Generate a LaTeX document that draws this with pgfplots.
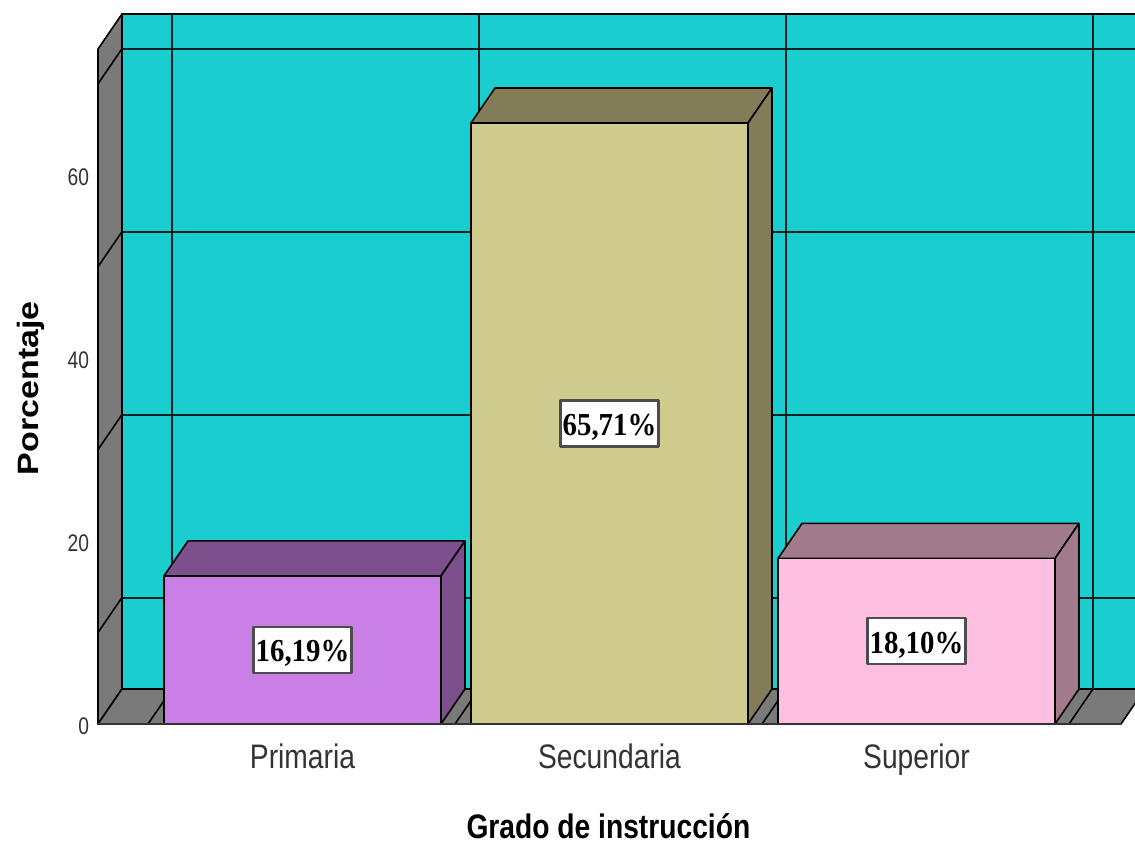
\documentclass[border=0pt]{standalone}
\usepackage{fontspec}
\setmainfont{Liberation Sans}
\newfontfamily\lblserif{Liberation Serif}
\usepackage{graphicx}
\usepackage{pgfplots}
\pgfplotsset{compat=1.18}
\definecolor{wall}{HTML}{1ACED0}
\definecolor{sidegrey}{HTML}{7A7A7A}
\definecolor{purF}{HTML}{C97FE6}
\definecolor{purD}{HTML}{7D4F8C}
\definecolor{khaF}{HTML}{D0CB8E}
\definecolor{khaD}{HTML}{827D57}
\definecolor{pinF}{HTML}{FFBFE0}
\definecolor{pinD}{HTML}{A17A8C}
\definecolor{ink}{HTML}{333333}
\begin{document}
\begin{tikzpicture}
\useasboundingbox (0pt,0pt) rectangle (851.25pt,632.25pt);
\begin{axis}[
  at={(73.5pt,89.25pt)}, anchor=south west,
  scale only axis, width=785.25pt, height=532.5pt,
  xmin=98, xmax=1145, ymin=0, ymax=77.63,
  clip=false,
  axis line style={draw=none}, tick style={draw=none},
  xtick={302.5,609.5,916.5},
  xticklabels={\scalebox{0.83}[1]{Primaria},\scalebox{0.83}[1]{Secundaria},\scalebox{0.83}[1]{Superior}},
  ytick={0,20,40,60},
  /pgf/number format/assume math mode=true,
  xticklabel style={anchor=center, yshift=-24.5pt, text=ink, text height=18pt, text depth=0pt, inner sep=0pt, font=\fontsize{25.5}{30}\selectfont},
  yticklabel style={anchor=east, yshift=-1.5pt, xshift=-3.25pt, text=ink, font=\fontsize{18}{22}\selectfont},
  yticklabel={\scalebox{0.8}[1]{\pgfmathprintnumber{\tick}}},
  xlabel={\scalebox{0.83}[1]{Grado de instrucción}},
  xlabel style={at={(axis description cs:0.4875,-0.1445)}, anchor=center, inner sep=0pt, text height=18pt, text depth=0pt, font=\fontsize{25.5}{30}\selectfont\bfseries},
  ylabel={\scalebox{1}[0.865]{Porcentaje}},
  ylabel style={at={(axis description cs:-0.0645,0.473)}, anchor=center, rotate=0, font=\fontsize{25.5}{30}\selectfont\bfseries},
  every axis plot/.append style={line width=1.2pt, line join=round},
]
% back wall
\addplot[fill=wall, draw=black] coordinates {(122,3.83)(1145,3.83)(1145,77.63)(122,77.63)} -- cycle;
% left wall
\addplot[fill=sidegrey, draw=black] coordinates {(98,0)(122,3.83)(122,77.63)(98,73.8)} -- cycle;
% floor
\addplot[fill=sidegrey, draw=black] coordinates {(98,0)(1121,0)(1145,3.83)(122,3.83)} -- cycle;
% back wall grid
\addplot[draw=black!85!wall, line width=1.5pt] coordinates {(122,13.83)(1145,13.83)};
\addplot[draw=black!85!wall, line width=1.5pt] coordinates {(122,33.83)(1145,33.83)};
\addplot[draw=black!85!wall, line width=1.5pt] coordinates {(122,53.83)(1145,53.83)};
\addplot[draw=black!85!wall, line width=1.5pt] coordinates {(122,73.83)(1145,73.83)};
\addplot[draw=black!85!wall] coordinates {(172,3.83)(172,77.63)};
\addplot[draw=black!85!wall] coordinates {(479,3.83)(479,77.63)};
\addplot[draw=black!85!wall] coordinates {(786,3.83)(786,77.63)};
\addplot[draw=black!85!wall] coordinates {(1093,3.83)(1093,77.63)};
% left wall grid
\addplot[draw=black] coordinates {(98,10)(122,13.83)};
\addplot[draw=black] coordinates {(98,30)(122,33.83)};
\addplot[draw=black] coordinates {(98,50)(122,53.83)};
\addplot[draw=black] coordinates {(98,70)(122,73.83)};
% floor grid
\addplot[draw=black] coordinates {(148,0)(172,3.83)};
\addplot[draw=black] coordinates {(455,0)(479,3.83)};
\addplot[draw=black] coordinates {(762,0)(786,3.83)};
\addplot[draw=black] coordinates {(1069,0)(1093,3.83)};
% Primaria 16.19
\addplot[fill=purD, draw=black] coordinates {(164,16.19)(188,20.02)(465,20.02)(441,16.19)} -- cycle;
\addplot[fill=purD, draw=black] coordinates {(441,0)(465,3.83)(465,20.02)(441,16.19)} -- cycle;
\addplot[fill=purF, draw=black] coordinates {(164,0)(441,0)(441,16.19)(164,16.19)} -- cycle;
% Secundaria 65.71
\addplot[fill=khaD, draw=black] coordinates {(471,65.71)(495,69.54)(772,69.54)(748,65.71)} -- cycle;
\addplot[fill=khaD, draw=black] coordinates {(748,0)(772,3.83)(772,69.54)(748,65.71)} -- cycle;
\addplot[fill=khaF, draw=black] coordinates {(471,0)(748,0)(748,65.71)(471,65.71)} -- cycle;
% Superior 18.10
\addplot[fill=pinD, draw=black] coordinates {(778,18.10)(802,21.93)(1079,21.93)(1055,18.10)} -- cycle;
\addplot[fill=pinD, draw=black] coordinates {(1055,0)(1079,3.83)(1079,21.93)(1055,18.10)} -- cycle;
\addplot[fill=pinF, draw=black] coordinates {(778,0)(1055,0)(1055,18.10)(778,18.10)} -- cycle;
% front baseline
\addplot[draw=ink, line width=1.6pt] coordinates {(98,0)(1121,0)};
% value labels
\addplot[draw=none, mark=none, point meta=explicit symbolic,
  nodes near coords={\scalebox{0.9}[1]{\pgfplotspointmeta}},
  every node near coord/.style={anchor=center, fill=white, draw=black!70, line width=1.6pt,
    minimum width=73.5pt, minimum height=34.5pt, inner sep=0pt, text height=18pt, text depth=0pt,
    font=\lblserif\bfseries\fontsize{24}{28}\selectfont, text=black}]
  coordinates {(302.5,8.095)[16,19\%] (609.5,32.855)[65,71\%] (916.5,9.05)[18,10\%]};
\end{axis}
\end{tikzpicture}
\end{document}
